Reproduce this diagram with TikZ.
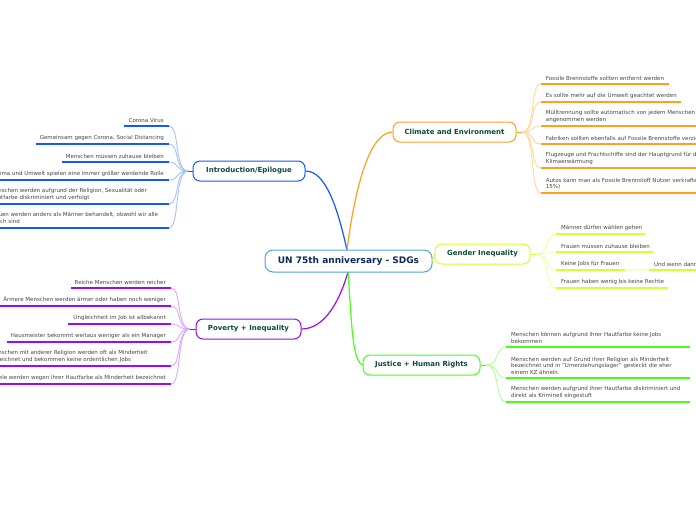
\documentclass[tikz,border=0pt]{standalone}
\usepackage{fontspec}
\setmainfont{DejaVu Sans}
\usetikzlibrary{calc}
\definecolor{bluec}{HTML}{1457FF}
\definecolor{bluel}{HTML}{A3C0FF}
\definecolor{purc}{HTML}{9A0AF5}
\definecolor{purl}{HTML}{DDA6FF}
\definecolor{orac}{HTML}{FFA01E}
\definecolor{oral}{HTML}{FFD69C}
\definecolor{yelc}{HTML}{D6FF2E}
\definecolor{yell}{HTML}{EEFFA6}
\definecolor{grec}{HTML}{48FF1C}
\definecolor{grel}{HTML}{B3FF9E}
\definecolor{rootc}{HTML}{4FA3DE}
\definecolor{textd}{HTML}{0B4A3C}
\definecolor{textn}{HTML}{0B2A5C}
\definecolor{textl}{HTML}{444444}
\tikzset{
  topicbox/.style={draw=#1,line width=1pt,rounded corners=7pt,fill=white,inner sep=0pt,font=\fontsize{7}{8}\selectfont\bfseries,text=textd},
  rootbox/.style={draw=rootc,line width=1pt,rounded corners=8pt,fill=white,inner sep=0pt,font=\fontsize{9}{10}\selectfont\bfseries,text=textn},
  leaftext/.style={inner sep=0pt,font=\fontsize{5.5}{6.4}\selectfont,text=textl,align=left},
  mainedge/.style={draw=#1,line width=1.2pt},
  subedge/.style={draw=#1,line width=0.9pt},
  underl/.style={draw=#1,line width=1.4pt}
}
% \leafR{name}{parent}{x1}{x2}{y}{text}{colour}{light colour}
\newcommand{\leafR}[8]{%
  \coordinate (#1a) at (#3,#5);
  \coordinate (#1b) at (#4,#5);
  \node[leaftext,anchor=south west] (#1) at (#3+5,#5-3.6) {#6};
  \draw[subedge=#8] (#2) .. controls +(14,0) and ($(#1a)+(-11,0)$) .. (#1a);
  \draw[underl=#7] (#1a) -- (#1b);
}
\newcommand{\leafL}[8]{%
  \coordinate (#1a) at (#3,#5);
  \coordinate (#1b) at (#4,#5);
  \node[leaftext,anchor=south east] (#1) at (#3-5,#5-3.6) {#6};
  \draw[subedge=#8] (#2) .. controls +(-14,0) and ($(#1a)+(11,0)$) .. (#1a);
  \draw[underl=#7] (#1a) -- (#1b);
}
\newcommand{\leafW}[8]{%
  \coordinate (#1a) at (#3,#5);
  \coordinate (#1b) at (#4,#5);
  \node[leaftext,anchor=south west] (#1) at (-10,#5-3.6) {#6};
  \draw[subedge=#8] (#2) .. controls +(-14,0) and ($(#1a)+(11,0)$) .. (#1a);
  \draw[underl=#7] (#1a) -- (#1b);
}
\begin{document}
\begin{tikzpicture}[x=1pt,y=-1pt]
\useasboundingbox (0,0) rectangle (696,520);
\clip (0,0) rectangle (696,520);
\coordinate (hubtop) at (347,250);
\coordinate (hubbot) at (348,272);
\node[topicbox=bluec,minimum width=112pt,minimum height=20pt] (intro) at (249,171) {Introduction/Epilogue};
\node[topicbox=purc,minimum width=105pt,minimum height=20pt] (pov) at (248.5,329) {Poverty + Inequality};
\node[topicbox=orac,minimum width=123pt,minimum height=20pt] (clim) at (454.5,132) {Climate and Environment};
\node[topicbox=yelc,minimum width=95pt,minimum height=20pt] (gen) at (482.5,254) {Gender Inequality};
\node[topicbox=grec,minimum width=117pt,minimum height=20pt] (just) at (421.5,365) {Justice + Human Rights};
\draw[mainedge=bluec] (intro.east) .. controls (325,171) and (337,205) .. (hubtop);
\draw[mainedge=orac] (clim.west) .. controls (368,132) and (354,195) .. (hubtop);
\draw[mainedge=purc] (pov.east) .. controls (325,329) and (340,300) .. (hubbot);
\draw[mainedge=grec] (just.west) .. controls (352,360) and (352,325) .. (hubbot);
\node[rootbox,minimum width=167pt,minimum height=22pt] (root) at (348.5,261) {UN 75th anniversary - SDGs};
\draw[mainedge=yelc] (gen.west) -- (root.east);
% introduction leaves
\coordinate (ih) at (188,171);
\draw[line width=1pt,bluec] (intro.west) -- (ih);
\leafL{i1}{ih}{169}{123.5}{126}{Corona Virus}{bluec}{bluel}
\leafL{i2}{ih}{169}{36}{144}{Gemeinsam gegen Corona, Social Distancing}{bluec}{bluel}
\leafL{i3}{ih}{169}{62}{162}{Menschen müssen zuhause bleiben}{bluec}{bluel}
\leafL{i4}{ih}{169}{-5}{180}{Klima und Umwelt spielen eine immer größer werdende Rolle}{bluec}{bluel}
\leafW{i5}{ih}{169}{-5}{204}{Menschen werden aufgrund der Religion, Sexualität oder\\Hautfarbe diskriminiert und verfolgt}{bluec}{bluel}
\leafW{i6}{ih}{169}{-5}{228}{Frauen werden anders als Männer behandelt, obwohl wir alle\\gleich sind}{bluec}{bluel}
% poverty leaves
\coordinate (ph) at (190,329);
\draw[line width=1pt,purc] (pov.west) -- (ph);
\leafL{p1}{ph}{171}{71}{288}{Reiche Menschen werden reicher}{purc}{purl}
\leafL{p2}{ph}{171}{-5}{306}{Ärmere Menschen werden ärmer oder haben noch weniger}{purc}{purl}
\leafL{p3}{ph}{171}{68}{324}{Ungleichheit im Job ist allbekannt}{purc}{purl}
\leafL{p4}{ph}{171}{7}{342}{Hausmeister bekommt weitaus weniger als ein Manager}{purc}{purl}
\leafW{p5}{ph}{171}{-5}{366}{Menschen mit anderer Religion werden oft als Minderheit\\bezeichnet und bekommen keine ordentlichen Jobs}{purc}{purl}
\leafL{p6}{ph}{171}{-5}{384}{Viele werden wegen ihrer Hautfarbe als Minderheit bezeichnet}{purc}{purl}
% climate leaves
\coordinate (ch) at (522,132);
\draw[line width=1pt,orac] (clim.east) -- (ch);
\leafR{c1}{ch}{540.7}{669}{84}{Fossile Brennstoffe sollten entfernt werden}{orac}{oral}
\leafR{c2}{ch}{540.7}{681}{102}{Es sollte mehr auf die Umwelt geachtet werden}{orac}{oral}
\leafR{c3}{ch}{540.7}{700}{126}{Mülltrennung sollte automatisch von jedem Menschen\\angenommen werden}{orac}{oral}
\leafR{c4}{ch}{540.7}{700}{144}{Fabriken sollten ebenfalls auf Fossile Brennstoffe verzichten}{orac}{oral}
\leafR{c5}{ch}{540.7}{700}{168}{Flugzeuge und Frachtschiffe sind der Hauptgrund für die\\Klimaerwärmung}{orac}{oral}
\leafR{c6}{ch}{540.7}{700}{193}{Autos kann man als Fossile Brennstoff Nutzer verkraften (ca.\\15\%)}{orac}{oral}
% gender leaves
\coordinate (gh) at (536,254);
\draw[line width=1pt,yelc] (gen.east) -- (gh);
\leafR{g1}{gh}{556}{645}{234}{Männer dürfen wählen gehen}{yelc}{yell}
\leafR{g2}{gh}{556}{653}{252}{Frauen müssen zuhause bleiben}{yelc}{yell}
\leafR{g3}{gh}{556}{625}{270}{Keine Jobs für Frauen}{yelc}{yell}
\leafR{g4}{gh}{556}{668}{288}{Frauen haben wenig bis keine Rechte}{yelc}{yell}
\coordinate (g5a) at (649,270);
\coordinate (g5b) at (700,270);
\node[leaftext,anchor=south west] (g5) at (654,266.4) {Und wenn dann};
\draw[subedge=yell!60,line width=1.2pt] (g3b) -- (g5a);
\draw[underl=yelc] (g5a) -- (g5b);
% justice leaves
\coordinate (jh) at (486,365);
\draw[line width=1pt,grec] (just.east) -- (jh);
\leafR{j1}{jh}{506}{690}{347}{Menschen können aufgrund ihrer Hautfarbe keine Jobs\\bekommen}{grec}{grel}
\leafR{j2}{jh}{506}{690}{378}{Menschen werden auf Grund ihrer Religion als Minderheit\\bezeichnet und in "Umerziehungslager" gesteckt die eher\\einem KZ ähneln.}{grec}{grel}
\leafR{j3}{jh}{506}{690}{402}{Menschen werden aufgrund ihrer Hautfarbe diskriminiert und\\direkt als Kriminell eingestuft}{grec}{grel}
\end{tikzpicture}
\end{document}
